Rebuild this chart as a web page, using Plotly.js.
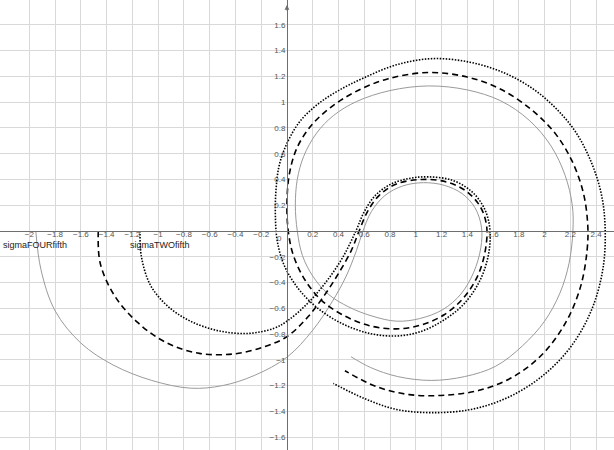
<!DOCTYPE html>
<html>
<head>
<meta charset="utf-8">
<script src="https://cdn.plot.ly/plotly-3.0.1.min.js"></script>
<style>html,body{margin:0;padding:0;background:#fff;}#chart{width:614px;height:450px;}</style>
</head>
<body>
<div id="chart"></div>
<script>
// sigmaFOURfifth (thin grey solid)
const fourX = [-1.95,-1.91,-1.80,-1.60,-1.35,-1.05,-0.75,-0.50,-0.25,0.0,0.20,0.35,0.46,0.54,0.59,0.655,0.76,0.90,1.06,1.22,1.36,1.46,1.51,1.505,1.45,1.35,1.21,1.03,0.85,0.66,0.48,0.32,0.20,0.12,0.08,0.065,0.08,0.13,0.23,0.36,0.54,0.80,1.10,1.40,1.66,1.88,2.05,2.16,2.215,2.22,2.19,2.12,2.00,1.83,1.62,1.38,1.12,0.86,0.65,0.497];
const fourY = [0.0,-0.30,-0.62,-0.87,-1.04,-1.16,-1.22,-1.20,-1.12,-0.98,-0.77,-0.55,-0.35,-0.15,0.0,0.15,0.275,0.35,0.375,0.355,0.29,0.18,0.03,-0.13,-0.32,-0.49,-0.61,-0.68,-0.70,-0.66,-0.59,-0.49,-0.35,-0.19,0.0,0.2,0.40,0.58,0.76,0.895,1.005,1.09,1.126,1.095,1.01,0.86,0.66,0.43,0.2,0.0,-0.25,-0.48,-0.70,-0.89,-1.05,-1.13,-1.16,-1.13,-1.06,-0.976];
// middle curve (dashed)
const threeX = [-1.465,-1.45,-1.34,-1.16,-0.93,-0.68,-0.42,-0.18,0.0,0.16,0.29,0.40,0.50,0.56,0.625,0.715,0.85,1.05,1.24,1.39,1.50,1.55,1.54,1.48,1.37,1.22,1.04,0.85,0.64,0.44,0.27,0.14,0.05,0.01,0.0,0.02,0.08,0.19,0.34,0.53,0.78,1.10,1.40,1.66,1.90,2.08,2.21,2.30,2.335,2.33,2.28,2.17,1.99,1.76,1.50,1.22,0.95,0.70,0.45];
const threeY = [0.0,-0.25,-0.50,-0.71,-0.87,-0.95,-0.955,-0.90,-0.82,-0.67,-0.50,-0.33,-0.15,0.0,0.15,0.275,0.365,0.40,0.38,0.31,0.19,0.04,-0.15,-0.35,-0.52,-0.65,-0.73,-0.76,-0.735,-0.655,-0.54,-0.38,-0.19,0.0,0.22,0.45,0.65,0.82,0.96,1.08,1.18,1.23,1.195,1.10,0.94,0.76,0.55,0.30,0.05,-0.15,-0.43,-0.70,-0.95,-1.13,-1.235,-1.275,-1.27,-1.21,-1.085];
// sigmaTWOfifth (dotted)
const twoX = [-1.141,-1.13,-1.06,-0.93,-0.75,-0.53,-0.30,-0.10,0.0,0.155,0.30,0.43,0.535,0.60,0.69,0.81,0.96,1.10,1.28,1.43,1.53,1.575,1.565,1.50,1.38,1.22,1.04,0.85,0.64,0.43,0.24,0.09,-0.02,-0.075,-0.09,-0.085,-0.06,0.0,0.10,0.24,0.40,0.60,0.85,1.13,1.42,1.68,1.90,2.08,2.24,2.36,2.44,2.47,2.455,2.37,2.21,1.99,1.72,1.43,1.12,0.85,0.60,0.36];
const twoY = [0.0,-0.20,-0.42,-0.58,-0.70,-0.775,-0.795,-0.755,-0.70,-0.567,-0.40,-0.21,0.0,0.15,0.28,0.365,0.41,0.42,0.395,0.31,0.18,0.02,-0.18,-0.38,-0.56,-0.69,-0.78,-0.815,-0.795,-0.72,-0.60,-0.45,-0.27,-0.08,0.12,0.32,0.51,0.68,0.85,0.985,1.09,1.19,1.29,1.338,1.31,1.23,1.11,0.96,0.77,0.54,0.29,0.03,-0.28,-0.60,-0.89,-1.12,-1.29,-1.385,-1.41,-1.385,-1.30,-1.183];

const xTickVals = [-2,-1.8,-1.6,-1.4,-1.2,-1,-0.8,-0.6,-0.4,-0.2,0.2,0.4,0.6,0.8,1,1.2,1.4,1.6,1.8,2,2.2,2.4];
const xTickText = ["\u22122","\u22121.8","\u22121.6","\u22121.4","\u22121.2","\u22121","\u22120.8","\u22120.6","\u22120.4","\u22120.2","0.2","0.4","0.6","0.8","1","1.2","1.4","1.6","1.8","2","2.2","2.4"];
const yTickVals = [-1.6,-1.4,-1.2,-1,-0.8,-0.6,-0.4,-0.2,0.2,0.4,0.6,0.8,1,1.2,1.4,1.6];
const yTickText = ["\u22121.6","\u22121.4","\u22121.2","\u22121","\u22120.8","\u22120.6","\u22120.4","\u22120.2","0.2","0.4","0.6","0.8","1","1.2","1.4","1.6"];
const originLabel = "0";
const curveLabels = ["sigmaFOURfifth","sigmaTWOfifth"];
const labelAnchorX = [fourX[0], twoX[0]];

const xRange = [-2.228, 2.539];
const yRange = [-1.700, 1.793];

const traces = [
  {x: fourX, y: fourY, mode:'lines', line:{color:'#9a9a9a', width:1, shape:'spline', smoothing:1}, hoverinfo:'skip'},
  {x: threeX, y: threeY, mode:'lines', line:{color:'#000', width:1.6, dash:'6px,4px', shape:'spline', smoothing:1}, hoverinfo:'skip'},
  {x: twoX, y: twoY, mode:'lines', line:{color:'#000', width:1.6, dash:'1.5px,1.5px', shape:'spline', smoothing:1}, hoverinfo:'skip'}
];

const layout = {
  width: 614, height: 450,
  margin: {l:0, r:0, t:0, b:0},
  paper_bgcolor: '#fff', plot_bgcolor: '#fff',
  showlegend: false,
  font: {family: 'Liberation Sans, Arial, sans-serif', size: 8, color: '#444'},
  xaxis: {
    range: xRange, anchor: 'free', position: (0 - yRange[0]) / (yRange[1] - yRange[0]),
    tickvals: xTickVals, ticktext: xTickText, ticks: '', showgrid: true, gridcolor: '#d9d9d9', gridwidth: 1,
    zeroline: false, showline: true, linecolor: '#6e6e6e', linewidth: 1.5, ticklabelstandoff: -5,
    tickfont: {size: 8, color: '#555'}, fixedrange: true
  },
  yaxis: {
    range: yRange, anchor: 'free', position: (0 - xRange[0]) / (xRange[1] - xRange[0]),
    tickvals: yTickVals, ticktext: yTickText, ticks: '', showgrid: true, gridcolor: '#d9d9d9', gridwidth: 1,
    zeroline: false, showline: true, linecolor: '#6e6e6e', linewidth: 1.5,
    tickfont: {size: 8, color: '#555'}, fixedrange: true
  },
  annotations: [
    {x: labelAnchorX[0], y: 0, xref:'x', yref:'y', text: curveLabels[0], showarrow:false, xanchor:'left', yanchor:'top', xshift:-35, yshift:-7, font:{size:9, color:'#222'}},
    {x: labelAnchorX[1], y: 0, xref:'x', yref:'y', text: curveLabels[1], showarrow:false, xanchor:'left', yanchor:'top', xshift:-12, yshift:-7, font:{size:9, color:'#222'}},
    {x: 0, y: 0, xref:'x', yref:'y', text: originLabel, showarrow:false, xanchor:'right', yanchor:'top', xshift:-3, yshift:-1, font:{size:8, color:'#555'}},
    {x: 0, y: 1.755, ax: 0, ay: 1.70, xref:'x', yref:'y', axref:'x', ayref:'y', text:'', showarrow:true, arrowhead:2, arrowsize:0.8, arrowwidth:1.2, arrowcolor:'#6e6e6e'}
  ]
};
Plotly.newPlot('chart', traces, layout, {staticPlot: true, displayModeBar: false});
</script>
</body>
</html>
